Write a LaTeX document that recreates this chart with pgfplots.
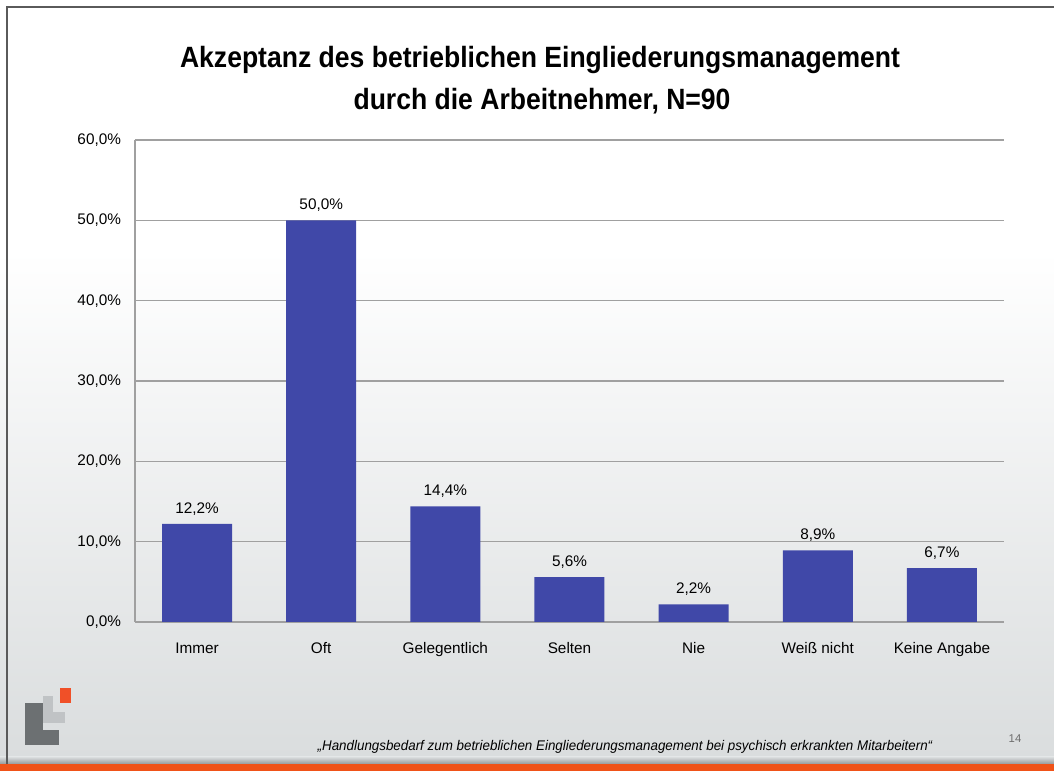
\documentclass[border=0pt]{standalone}
\usepackage{fontspec}
\setmainfont{Liberation Sans}
\usepackage{pgfplots}
\pgfplotsset{compat=1.18}
\definecolor{barblue}{RGB}{64,72,168}
\definecolor{gridgray}{RGB}{160,160,160}
\definecolor{bggray}{RGB}{218,221,222}
\definecolor{orangebar}{RGB}{240,82,24}
\definecolor{logodark}{RGB}{108,112,114}
\definecolor{logolight}{RGB}{192,195,197}
\definecolor{logoorange}{RGB}{240,80,40}
\definecolor{framegray}{RGB}{90,90,90}

\begin{document}
\begin{tikzpicture}[x=0.75pt,y=0.75pt]
% slide background, 1 unit = 1 px of the reference
\path[use as bounding box] (0,0) rectangle (1054,771);
\fill[white] (0,0) rectangle (1054,771);
\shade[top color=white,bottom color=bggray] (0,14) rectangle (1054,520);
\shade[top color=bggray,bottom color={rgb,255:red,150;green,152;blue,154}] (0,7) rectangle (1054,14);
\fill[orangebar] (0,0) rectangle (1054,7);
\draw[framegray,line width=1.5pt] (7,7) -- (7,764) -- (1054,764);

% title
\node[anchor=base,font=\bfseries\fontsize{22}{26}\selectfont] at (540,703)
  {\scalebox{0.905}[1]{Akzeptanz des betrieblichen Eingliederungsmanagement}};
\node[anchor=base,font=\bfseries\fontsize{22}{26}\selectfont] at (542,661)
  {\scalebox{0.905}[1]{durch die Arbeitnehmer, N=90}};

\begin{axis}[
    at={(101.25pt,111.75pt)}, anchor=south west,
    scale only axis,
    width=651.75pt, height=361.5pt,
    ybar, bar width=52.5pt,
    xmin=-0.5, xmax=6.5,
    ymin=0, ymax=60,
    xtick={0,...,6},
    xticklabels={Immer,Oft,Gelegentlich,Selten,Nie,Weiß nicht,Keine Angabe},
    ytick={0,10,...,60},
    yticklabels={{0,0\%},{10,0\%},{20,0\%},{30,0\%},{40,0\%},{50,0\%},{60,0\%}},
    major tick length=0pt,
    axis x line*=bottom, axis y line*=left,
    axis line style={gridgray,-,line width=0.9pt},
    ymajorgrids, grid style={gridgray,line width=0.9pt},
    tick label style={font=\fontsize{11.5}{13}\selectfont},
    yticklabel style={xshift=-7pt},
    xticklabel style={yshift=-12pt},
    /pgf/number format/assume math mode=true,
    point meta=explicit symbolic,
    nodes near coords,
    nodes near coords style={font=\fontsize{11.5}{13}\selectfont, yshift=3pt},
]
\addplot[fill=barblue, draw=none] coordinates {
    (0,12.2) [12,2\%]
    (1,50.0) [50,0\%]
    (2,14.4) [14,4\%]
    (3,5.6)  [5,6\%]
    (4,2.2)  [2,2\%]
    (5,8.9)  [8,9\%]
    (6,6.7)  [6,7\%]
};
\end{axis}

% logo
\fill[logolight] (43,48) rectangle (53,75);
\fill[logolight] (43,48) rectangle (65,59);
\fill[logodark] (25,26) rectangle (43,68);
\fill[logodark] (25,26) rectangle (59,41);
\fill[logoorange] (60,68) rectangle (71,83);

% footer
\node[anchor=base,font=\itshape\fontsize{10.5}{12}\selectfont] at (625,20)
  {\scalebox{0.955}[1]{„Handlungsbedarf zum betrieblichen Eingliederungsmanagement bei psychisch erkrankten Mitarbeitern“}};
\node[anchor=base,font=\fontsize{8.5}{10}\selectfont,text={rgb,255:red,110;green,110;blue,110}] at (1015,28) {14};
\end{tikzpicture}
\end{document}
